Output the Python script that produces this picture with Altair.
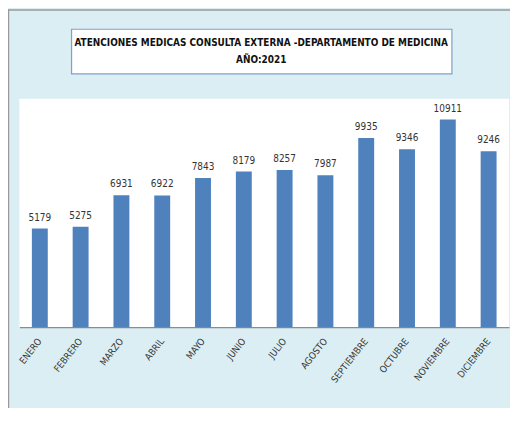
import altair as alt
import pandas as pd

months = ["ENERO", "FEBRERO", "MARZO", "ABRIL", "MAYO", "JUNIO", "JULIO",
          "AGOSTO", "SEPTIEMBRE", "OCTUBRE", "NOVIEMBRE", "DICIEMBRE"]
values = [5179, 5275, 6931, 6922, 7843, 8179, 8257, 7987, 9935, 9346, 10911, 9246]
title_lines = ["ATENCIONES MEDICAS CONSULTA EXTERNA -DEPARTAMENTO DE MEDICINA", "AÑO:2021"]

FONT = "DejaVu Sans Condensed"

df = pd.DataFrame({"mes": months, "valor": values})

xenc = alt.X("mes:N", sort=months, title=None,
             scale=alt.Scale(paddingInner=0.61, paddingOuter=0.305),
             axis=alt.Axis(labelAngle=-52, labelFontSize=9.5, labelColor="#333333",
                           labelFont=FONT, ticks=False, domainColor="#8c8c8c",
                           labelPadding=12, domainWidth=1.2))
yenc = alt.Y("valor:Q", scale=alt.Scale(domain=[0, 12000], nice=False), axis=None)

base = alt.Chart(df)
bars = base.mark_bar(color="#4F81BD").encode(x=xenc, y=yenc)
labels = base.mark_text(baseline="bottom", dy=-6, fontSize=10, color="#333333",
                        font=FONT).encode(x=alt.X("mes:N", sort=months), y=yenc,
                                          text=alt.Text("valor:Q", format="d"))

one = alt.Chart(pd.DataFrame({"k": [0]}))
box = one.mark_rect(fill="white", stroke="#7F9FCF", strokeWidth=1.2).encode(
    x=alt.value(52.5), x2=alt.value(435.5), y=alt.value(-70), y2=alt.value(-25))
t1 = one.mark_text(text=title_lines[0], fontSize=10, fontWeight="bold", color="#111111",
                   font=FONT).encode(x=alt.value(243.5), y=alt.value(-56))
t2 = one.mark_text(text=title_lines[1], fontSize=10, fontWeight="bold", color="#111111",
                   font=FONT).encode(x=alt.value(243.5), y=alt.value(-39))
border_l = one.mark_rule(color="#999999", strokeWidth=1.5).encode(
    x=alt.value(-11), y=alt.value(-90), y2=alt.value(330))
border_t = one.mark_rule(color="#999999", strokeWidth=1.5).encode(
    x=alt.value(-11.5), x2=alt.value(500), y=alt.value(-89.5))

chart = alt.layer(border_l, border_t, box, t1, t2, bars, labels).properties(
    width=493, height=230,
    autosize=alt.AutoSizeParams(type="none"),
    padding={"left": 11.5, "top": 90, "right": 1, "bottom": 80},
    background="#DBEEF4",
).configure_view(fill="white", stroke=None)

chart.save("out.html", embed_options={"renderer": "svg", "actions": False})
